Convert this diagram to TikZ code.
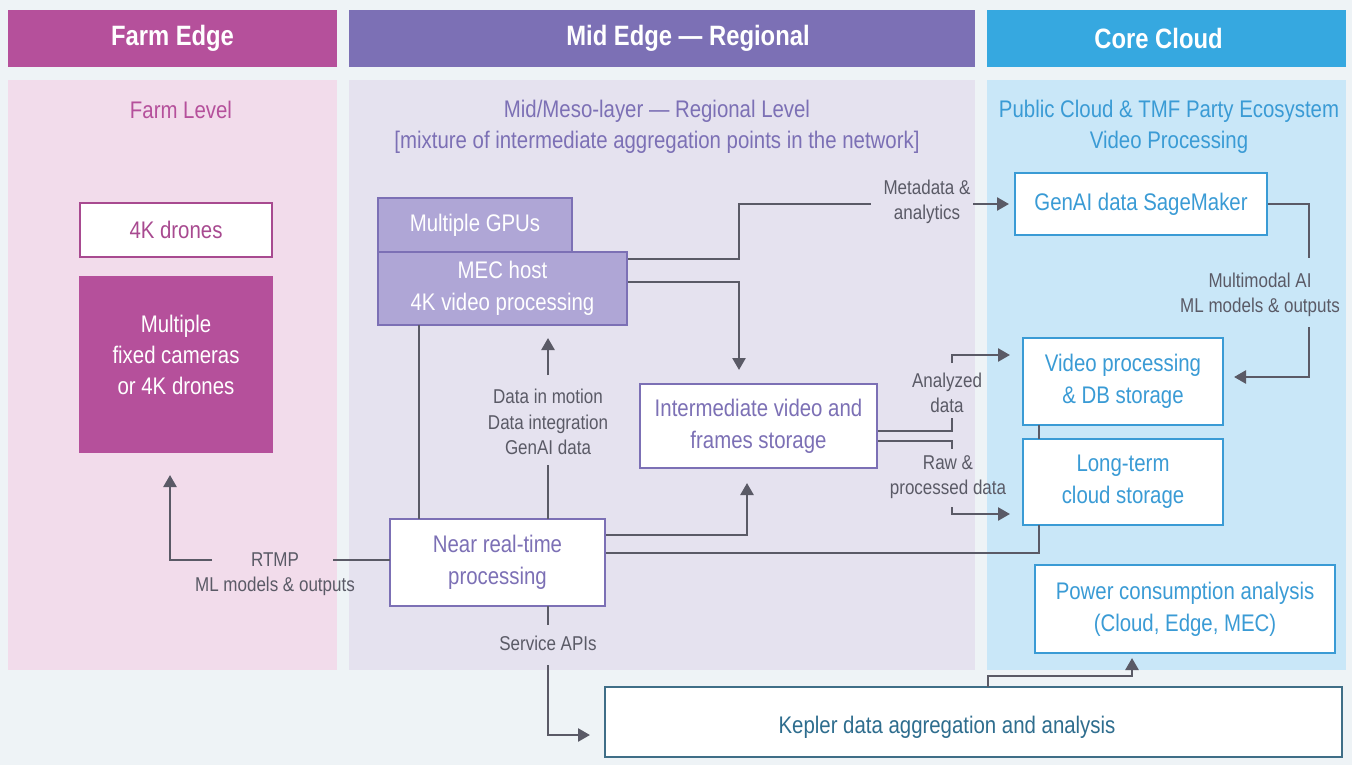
\documentclass[tikz,border=0pt]{standalone}
\usepackage{fontspec}
\setmainfont{Liberation Sans}[FakeStretch=0.85]
\usetikzlibrary{arrows.meta}
\definecolor{bgc}{HTML}{EEF3F6}
\definecolor{farmD}{HTML}{B5509B}
\definecolor{farmL}{HTML}{F2DCEB}
\definecolor{farmT}{HTML}{A84A90}
\definecolor{midD}{HTML}{7C70B5}
\definecolor{midL}{HTML}{E5E2EF}
\definecolor{midF}{HTML}{AFA6D6}
\definecolor{cloudD}{HTML}{36A8E0}
\definecolor{cloudL}{HTML}{C9E7F8}
\definecolor{cloudT}{HTML}{3A9BD5}
\definecolor{lc}{HTML}{5A5A66}
\definecolor{kep}{HTML}{3F6E87}
\definecolor{kepT}{HTML}{2E6D8E}
\tikzset{
  hdr/.style={fill=#1, text=white, font=\fontsize{14}{17}\selectfont\bfseries, inner sep=0pt},
  panel/.style={fill=#1, inner sep=0pt},
  box/.style={draw=#1, line width=1pt, fill=white, text=#1, align=center, inner sep=0pt,
    font=\fontsize{12}{16}\selectfont},
  lower/.style={execute at begin node={\rule{0pt}{12.5pt}}},
  sub/.style={text=#1, align=center, font=\fontsize{12}{15.5}\selectfont, inner sep=0pt},
  lbl/.style={text=lc, align=center, font=\fontsize{10}{12.75}\selectfont, inner sep=2pt},
  conn/.style={draw=lc, line width=1.25pt},
  arr/.style={conn, -{Triangle[length=6pt,width=6.5pt]}, shorten >=6pt},
}
\begin{document}
\begin{tikzpicture}[x=0.5pt,y=-0.5pt]
\useasboundingbox (0,0) rectangle (1352,765);
\fill[bgc] (0,0) rectangle (1352,765);

% headers
\node[hdr=farmD, minimum width=164.5pt, minimum height=28.5pt] (farmH) at (172.5,38.5) {Farm Edge};
\node[hdr=midD, minimum width=313pt, minimum height=28.5pt] (midH) at (662,38.5) {\hspace*{26pt}Mid Edge — Regional};
\node[hdr=cloudD, minimum width=179.5pt, minimum height=28.5pt] (cloudH) at (1166.5,38.5) {Core Cloud\hspace*{8pt}};

% panels
\node[panel=farmL, minimum width=164.5pt, minimum height=295pt] (farmP) at (172.5,375) {};
\node[panel=midL, minimum width=313pt, minimum height=295pt] (midP) at (662,375) {};
\node[panel=cloudL, minimum width=179.5pt, minimum height=295pt] (cloudP) at (1166.5,375) {};

% panel titles
\node[sub=farmD] (farmS) at (181,110) {Farm Level};
\node[sub=midD] (midS) at (657,127) {Mid/Meso-layer — Regional Level\\{}{[mixture of intermediate aggregation points in the network]}};
\node[sub=cloudT] (cloudS) at (1169,127) {Public Cloud \& TMF Party Ecosystem\\Video Processing};

% farm boxes
\node[box=farmT, minimum width=96pt, minimum height=27pt] (drones) at (176,230) {4K drones};
\node[box=farmD, fill=farmD, minimum width=96pt, minimum height=87.5pt] (cams) at (176,364.5) {};
\node[text=white, align=center, font=\fontsize{12}{15.5}\selectfont, inner sep=0pt] (camsT) at (176,355) {Multiple\\fixed cameras\\or 4K drones};

% mid boxes
\node[box=midD, fill=midF, text=white, minimum width=97pt, minimum height=27pt] (gpus) at (475,225) {Multiple GPUs};
\node[box=midD, fill=midF, text=white, lower, minimum width=124.5pt, minimum height=36.5pt] (mec) at (502.5,288.5) {MEC host\\4K video processing};
\node[box=midD, lower, minimum width=118.5pt, minimum height=42pt] (inter) at (758.5,426) {Intermediate video and\\frames storage};
\node[box=midD, lower, minimum width=107.5pt, minimum height=43.5pt] (nrt) at (497.5,562.5) {Near real-time\\processing};

% cloud boxes
\node[box=cloudT, text=cloudT, minimum width=126pt, minimum height=31pt] (genai) at (1141,204) {GenAI data SageMaker};
\node[box=cloudT, lower, minimum width=100pt, minimum height=43.5pt] (video) at (1123,381.5) {Video processing\\\& DB storage};
\node[box=cloudT, lower, minimum width=100pt, minimum height=43pt] (longt) at (1123,482) {Long-term\\cloud storage};
\node[box=cloudT, lower, minimum width=150pt, minimum height=44pt] (power) at (1185,609) {Power consumption analysis\\(Cloud, Edge, MEC)};
\node[box=kep, line width=1.2pt, minimum width=368.5pt, minimum height=35pt] (kepler) at (973.5,722) {};
\node[text=kepT, font=\fontsize{12}{16}\selectfont, inner sep=0pt] (kepT) at (947,727) {Kepler data aggregation and analysis};

% labels
\node[lbl] (meta) at (927,202) {Metadata \&\\analytics};
\node[lbl] (mm) at (1260,295) {Multimodal AI\\ML models \& outputs};
\node[lbl] (ana) at (947,393) {Analyzed\\data};
\node[lbl] (raw) at (948,477) {Raw \&\\processed data};
\node[lbl] (dat) at (548,422) {Data in motion\\Data integration\\GenAI data};
\node[lbl] (rtmp) at (275,574) {RTMP\\ML models \& outputs};
\node[lbl] (svc) at (548,643) {Service APIs};

% junction coordinates
\coordinate (m1) at (739,259);
\coordinate (m2) at (739,204);
\coordinate (m3) at (871,204);
\coordinate (m4) at (973,204);
\coordinate (m5) at (739,282);
\coordinate (i0) at (739,384);
\coordinate (g1) at (1309,258);
\coordinate (g2) at (1309,327);
\coordinate (g3) at (1309,377);
\coordinate (a1) at (877,431);
\coordinate (a2) at (952,418);
\coordinate (a3) at (952,363);
\coordinate (a4) at (1023,355);
\coordinate (r1) at (877,441);
\coordinate (r2) at (952,449);
\coordinate (r3) at (952,507);
\coordinate (r4) at (1023,514);
\coordinate (v1) at (1039,425);
\coordinate (v2) at (1039,439);
\coordinate (l1) at (1039,525);
\coordinate (n1) at (605,553);
\coordinate (n2) at (605,535);
\coordinate (n3) at (747,468);
\coordinate (d1) at (548,519);
\coordinate (d2) at (548,465);
\coordinate (d3) at (548,375);
\coordinate (d4) at (548,325);
\coordinate (e1) at (419,325);
\coordinate (e2) at (419,519);
\coordinate (t1) at (390,560);
\coordinate (t2) at (333,560);
\coordinate (t3) at (212,560);
\coordinate (t4) at (170,452);
\coordinate (s1) at (548,606);
\coordinate (s2) at (548,625);
\coordinate (s3) at (548,665);
\coordinate (s4) at (605,735);
\coordinate (k1) at (988,687);
\coordinate (k2) at (1132,676);
\coordinate (k3) at (1132,653);

% connectors
\draw[conn] (mec.east |- m1) -- (m1) -- (m2) -- (m3);
\draw[arr, shorten >=2.5pt] (m4) -- (genai.west);
\draw[arr, shorten >=7pt] (mec.east |- m5) -| (i0);
\draw[conn] (genai.east) -| (g1);
\draw[arr, shorten >=5pt] (g2) |- (video.east |- g3);
\draw[conn] (inter.east |- a1) -| (a2);
\draw[arr, shorten >=6.5pt] (a3) |- (a4);
\draw[conn] (inter.east |- r1) -| (r2);
\draw[arr, shorten >=6.5pt] (r3) |- (r4);
\draw[conn] (v1) -- (v2);
\draw[conn] (nrt.east |- n1) -| (l1);
\draw[arr, shorten >=7.5pt] (nrt.east |- n2) -| (n3);
\draw[conn] (d1) -- (d2);
\draw[arr, shorten >=6.5pt] (d3) -- (d4);
\draw[conn] (e1) -- (e2);
\draw[conn] (t1) -- (t2);
\draw[arr, shorten >=11.5pt] (t3) -| (t4);
\draw[conn] (s1) -- (s2);
\draw[arr, shorten >=7.5pt] (s3) |- (s4);
\draw[arr, shorten >=2.5pt] (k1) |- (k2) -- (k3);
\end{tikzpicture}
\end{document}
